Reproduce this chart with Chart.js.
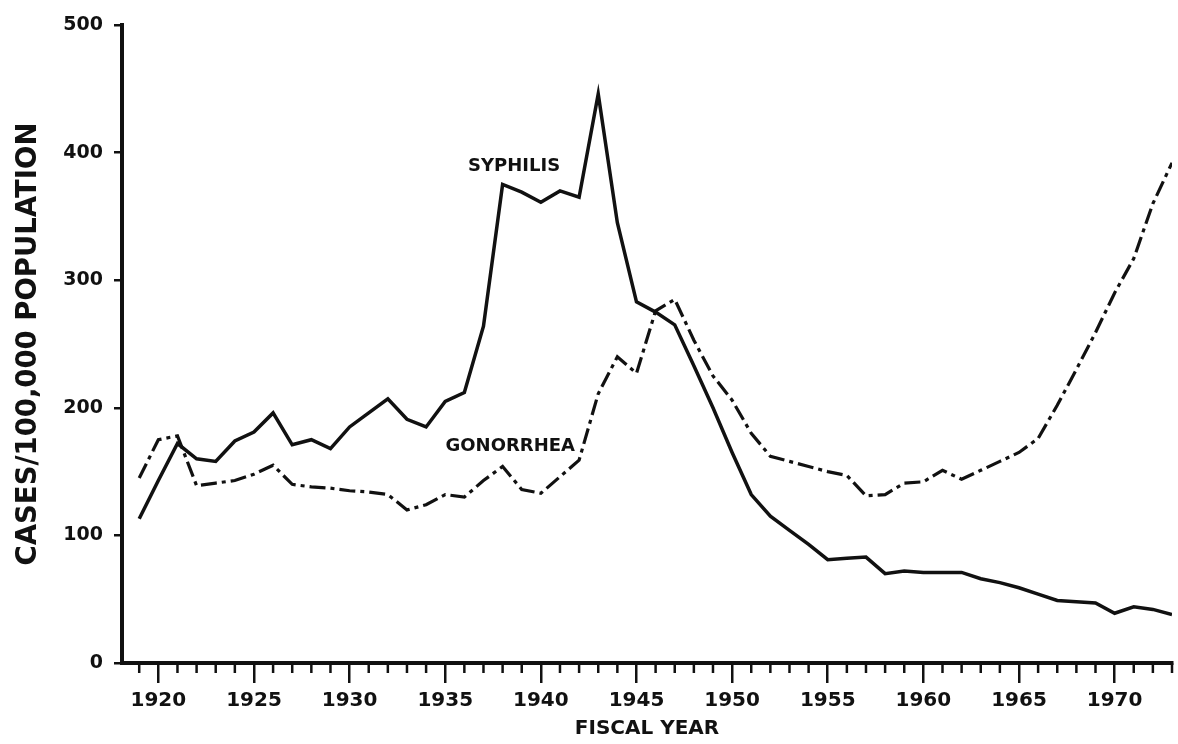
<!DOCTYPE html>
<html>
<head>
<meta charset="utf-8">
<script src="https://cdn.jsdelivr.net/npm/chart.js@4/dist/chart.umd.min.js"></script>
<style>
  html, body { margin: 0; padding: 0; background: #fff; }
  canvas { display: block; }
</style>
</head>
<body>
<canvas id="vdChart" width="1178" height="744"></canvas>
<script>
// Reported cases per 100,000 population, by fiscal year
const years = [
  1919, 1920, 1921, 1922, 1923, 1924, 1925, 1926, 1927, 1928,
  1929, 1930, 1931, 1932, 1933, 1934, 1935, 1936, 1937, 1938,
  1939, 1940, 1941, 1942, 1943, 1944, 1945, 1946, 1947, 1948,
  1949, 1950, 1951, 1952, 1953, 1954, 1955, 1956, 1957, 1958,
  1959, 1960, 1961, 1962, 1963, 1964, 1965, 1966, 1967, 1968,
  1969, 1970, 1971, 1972, 1973
];

const syphilisRates = [
  113, 143, 172, 160, 158, 174, 181, 196, 171, 175,
  168, 185, 196, 207, 191, 185, 205, 212, 264, 375,
  369, 361, 370, 365, 446, 345, 283, 275, 265, 233,
  200, 165, 132, 115, 104, 93, 81, 82, 83, 70,
  72, 71, 71, 71, 66, 63, 59, 54, 49, 48,
  47, 39, 44, 42, 38
];

const gonorrheaRates = [
  145, 175, 178, 139, 141, 143, 148, 155, 140, 138,
  137, 135, 134, 132, 120, 124, 132, 130, 143, 154,
  136, 133, 146, 159, 211, 240, 227, 276, 285, 253,
  225, 206, 180, 162, 158, 154, 150, 147, 131, 132,
  141, 142, 151, 144, 151, 158, 165, 176, 202, 230,
  259, 290, 317, 360, 392
];

const yTicks = [0, 100, 200, 300, 400, 500];
const xMajorTicks = [1920, 1925, 1930, 1935, 1940, 1945, 1950, 1955, 1960, 1965, 1970];

// in-plot series names, anchored in data units
const seriesNames = ['SYPHILIS', 'GONORRHEA'];
const nameAnchorYear = [1938.6, 1938.4];
const nameAnchorValue = [389, 170];

const FONT = '"DejaVu Sans", sans-serif';
const INK = '#111';

// short unlabeled ticks for every single year
const minorTicks = {
  id: 'minorTicks',
  afterDraw(chart) {
    const { ctx, chartArea, scales: { x } } = chart;
    ctx.save();
    ctx.strokeStyle = INK;
    ctx.lineWidth = 2.5;
    years.forEach(yr => {
      if (yr % 5 === 0) return;
      const px = x.getPixelForValue(yr);
      ctx.beginPath();
      ctx.moveTo(px, chartArea.bottom);
      ctx.lineTo(px, chartArea.bottom + 10);
      ctx.stroke();
    });
    ctx.restore();
  }
};

const seriesLabels = {
  id: 'seriesLabels',
  afterDatasetsDraw(chart) {
    const { ctx, scales: { x, y } } = chart;
    ctx.save();
    ctx.font = `bold 18px ${FONT}`;
    ctx.fillStyle = INK;
    ctx.textAlign = 'center';
    ctx.textBaseline = 'middle';
    seriesNames.forEach((name, i) => {
      ctx.fillText(name, x.getPixelForValue(nameAnchorYear[i]), y.getPixelForValue(nameAnchorValue[i]));
    });
    ctx.restore();
  }
};

const toPoints = vals => years.map((yr, i) => ({ x: yr, y: vals[i] }));

new Chart(document.getElementById('vdChart').getContext('2d'), {
  type: 'line',
  data: {
    datasets: [
      {
        label: 'Syphilis',
        data: toPoints(syphilisRates),
        borderColor: INK,
        borderWidth: 3.5,
        pointRadius: 0,
        tension: 0,
        fill: false
      },
      {
        label: 'Gonorrhea',
        data: toPoints(gonorrheaRates),
        borderColor: INK,
        borderWidth: 3.2,
        borderDash: [16, 5, 4, 5],
        borderCapStyle: 'butt',
        pointRadius: 0,
        tension: 0,
        fill: false
      }
    ]
  },
  options: {
    responsive: false,
    animation: false,
    layout: { padding: { left: 8, right: 6, top: 25, bottom: 3 } },
    plugins: {
      legend: { display: false },
      tooltip: { enabled: false }
    },
    scales: {
      x: {
        type: 'linear',
        min: 1918.1,
        max: 1973,
        afterBuildTicks: scale => { scale.ticks = xMajorTicks.map(v => ({ value: v })); },
        afterFit: scale => { scale.height = 78; },
        ticks: {
          font: { family: FONT, size: 20, weight: 'bold' },
          color: INK,
          padding: 6,
          maxRotation: 0,
          autoSkip: false,
          callback: v => String(v)
        },
        grid: { drawOnChartArea: false, tickLength: 20, lineWidth: 2.5, color: INK },
        border: { color: INK, width: 4 },
        title: {
          display: true,
          text: 'FISCAL YEAR',
          font: { family: FONT, size: 20, weight: 'bold' },
          color: INK,
          padding: { top: 0, bottom: 0 }
        }
      },
      y: {
        min: 0,
        max: 500,
        afterBuildTicks: scale => { scale.ticks = yTicks.map(v => ({ value: v })); },
        afterFit: scale => { scale.width = 114; },
        ticks: {
          font: { family: FONT, size: 19, weight: 'bold' },
          color: INK,
          padding: 11
        },
        grid: { drawOnChartArea: false, tickLength: 8, lineWidth: 2.5, color: INK },
        border: { color: INK, width: 4 },
        title: {
          display: true,
          text: 'CASES/100,000 POPULATION',
          font: { family: FONT, size: 27.5, weight: 'bold' },
          color: INK,
          padding: { top: 4, bottom: 0 }
        }
      }
    }
  },
  plugins: [minorTicks, seriesLabels]
});
</script>
</body>
</html>
